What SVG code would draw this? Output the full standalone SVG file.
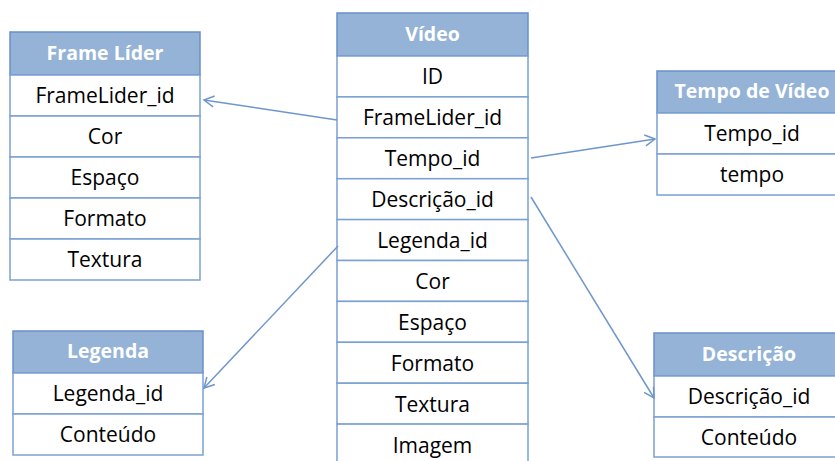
<svg xmlns="http://www.w3.org/2000/svg" width="835" height="461" viewBox="0 0 835 461">
<style>
.hdr{fill:#95B3D7;stroke:#6A8FC9;stroke-width:1.5}
.row{fill:#FFFFFF;stroke:#7BA0D2;stroke-width:1.5}
.ht{font-family:"Open Sans","Noto Sans",sans-serif;font-weight:bold;font-size:19.5px;fill:#FFFFFF;text-anchor:middle}
.rt{font-family:"Open Sans","Noto Sans",sans-serif;font-size:21px;fill:#000000;text-anchor:middle}
.conn{stroke:#6F96CC;stroke-width:1.5;fill:none;marker-end:url(#arr)}
</style>
<defs>
<marker id="arr" markerUnits="userSpaceOnUse" markerWidth="14" markerHeight="14" refX="11" refY="6" orient="auto" viewBox="0 0 14 12">
<path d="M1,0.5 L11,6 L1,11.5" fill="none" stroke="#6F96CC" stroke-width="1.5"/>
</marker>
</defs>
<rect x="0" y="0" width="835" height="461" fill="#FFFFFF"/>

<g id="frame-lider">
<rect class="hdr" x="10" y="32" width="190" height="43"/>
<text class="ht" x="105" y="60">Frame Líder</text>
<rect class="row" x="10" y="75" width="190" height="41"/>
<text class="rt" x="105" y="103">FrameLider_id</text>
<rect class="row" x="10" y="116" width="190" height="41"/>
<text class="rt" x="105" y="144">Cor</text>
<rect class="row" x="10" y="157" width="190" height="41"/>
<text class="rt" x="105" y="185">Espaço</text>
<rect class="row" x="10" y="198" width="190" height="41"/>
<text class="rt" x="105" y="226">Formato</text>
<rect class="row" x="10" y="239" width="190" height="41"/>
<text class="rt" x="105" y="267">Textura</text>
</g>

<g id="video">
<rect class="hdr" x="337" y="13" width="191" height="43"/>
<text class="ht" x="432.5" y="41">Vídeo</text>
<rect class="row" x="337" y="56" width="191" height="40.9"/>
<text class="rt" x="432.5" y="84">ID</text>
<rect class="row" x="337" y="96.9" width="191" height="40.9"/>
<text class="rt" x="432.5" y="125">FrameLider_id</text>
<rect class="row" x="337" y="137.8" width="191" height="40.9"/>
<text class="rt" x="432.5" y="166">Tempo_id</text>
<rect class="row" x="337" y="178.7" width="191" height="40.9"/>
<text class="rt" x="432.5" y="207">Descrição_id</text>
<rect class="row" x="337" y="219.6" width="191" height="40.9"/>
<text class="rt" x="432.5" y="248">Legenda_id</text>
<rect class="row" x="337" y="260.5" width="191" height="40.9"/>
<text class="rt" x="432.5" y="289">Cor</text>
<rect class="row" x="337" y="301.4" width="191" height="40.9"/>
<text class="rt" x="432.5" y="330">Espaço</text>
<rect class="row" x="337" y="342.3" width="191" height="40.9"/>
<text class="rt" x="432.5" y="371">Formato</text>
<rect class="row" x="337" y="383.2" width="191" height="40.9"/>
<text class="rt" x="432.5" y="412">Textura</text>
<rect class="row" x="337" y="424.1" width="191" height="40.9"/>
<text class="rt" x="432.5" y="453">Imagem</text>
</g>

<g id="tempo-de-video">
<rect class="hdr" x="657" y="71" width="190" height="42"/>
<text class="ht" x="752" y="98">Tempo de Vídeo</text>
<rect class="row" x="657" y="113" width="190" height="41"/>
<text class="rt" x="752" y="141">Tempo_id</text>
<rect class="row" x="657" y="154" width="190" height="41"/>
<text class="rt" x="752" y="182">tempo</text>
</g>

<g id="legenda">
<rect class="hdr" x="13" y="331" width="190" height="42"/>
<text class="ht" x="108" y="358">Legenda</text>
<rect class="row" x="13" y="373" width="190" height="41"/>
<text class="rt" x="108" y="401">Legenda_id</text>
<rect class="row" x="13" y="414" width="190" height="41"/>
<text class="rt" x="108" y="442">Conteúdo</text>
</g>

<g id="descricao">
<rect class="hdr" x="654" y="333" width="190" height="43"/>
<text class="ht" x="749" y="361">Descrição</text>
<rect class="row" x="654" y="376" width="190" height="41"/>
<text class="rt" x="749" y="404">Descrição_id</text>
<rect class="row" x="654" y="417" width="190" height="40"/>
<text class="rt" x="749" y="445">Conteúdo</text>
</g>

<g id="connectors">
<line class="conn" x1="337" y1="120" x2="204" y2="100"/>
<line class="conn" x1="531" y1="158" x2="655" y2="139"/>
<line class="conn" x1="531" y1="197" x2="654" y2="398"/>
<line class="conn" x1="338" y1="246" x2="204" y2="388"/>
</g>
</svg>
